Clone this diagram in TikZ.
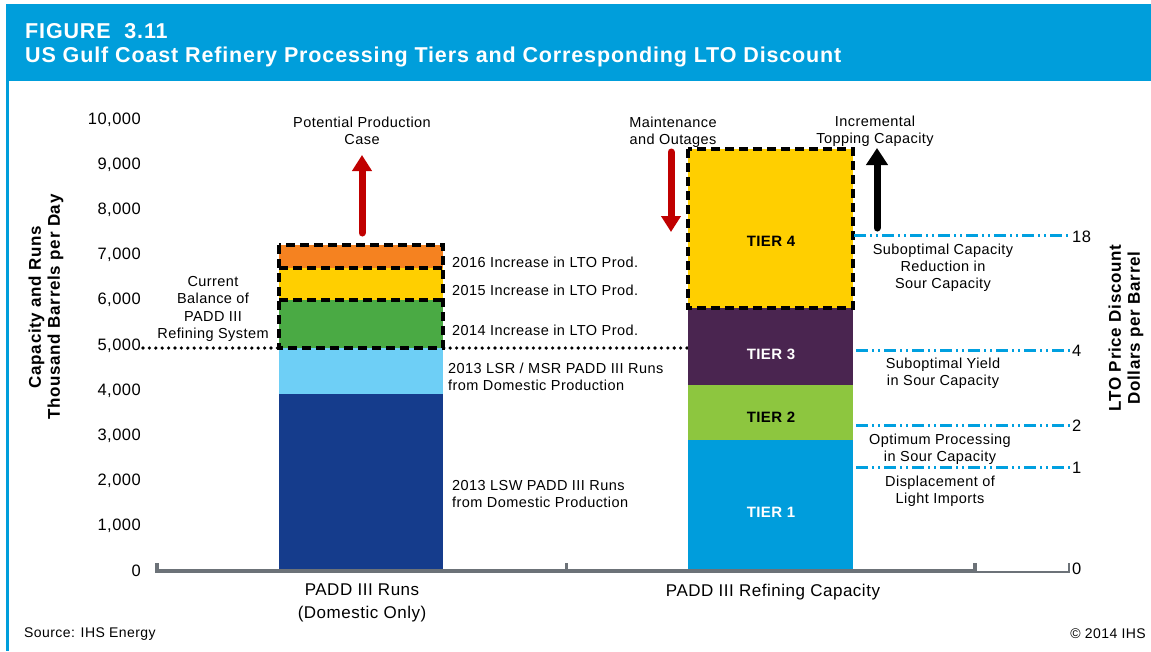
\documentclass[tikz,border=0pt]{standalone}
\usepackage{fontspec}
\setmainfont{Liberation Sans}[LetterSpace=3]
\usetikzlibrary{arrows.meta}
\definecolor{hdr}{RGB}{0,158,219}
\definecolor{dkblue}{RGB}{21,60,140}
\definecolor{ltblue}{RGB}{110,207,246}
\definecolor{grn}{RGB}{74,170,68}
\definecolor{ylw}{RGB}{255,207,0}
\definecolor{orng}{RGB}{245,130,32}
\definecolor{purp}{RGB}{74,37,80}
\definecolor{lgrn}{RGB}{141,198,63}
\definecolor{tonebl}{RGB}{0,157,220}
\definecolor{ddblue}{RGB}{0,160,224}
\definecolor{axgray}{RGB}{108,114,120}
\definecolor{arred}{RGB}{192,0,0}
\begin{document}
\begin{tikzpicture}[x=1pt,y=-1pt,
  lbl/.style={font=\fontsize{14.5}{17}\selectfont, inner sep=0pt, align=center},
  lbll/.style={font=\fontsize{14.5}{17}\selectfont, inner sep=0pt, align=left, anchor=west},
  ticklbl/.style={font=\fontsize{16.5}{18}\selectfont, inner sep=0pt, anchor=east},
  rticklbl/.style={font=\fontsize{16.5}{18}\selectfont, inner sep=0pt, anchor=west},
  tierlbl/.style={font=\bfseries\fontsize{15}{17}\selectfont, inner sep=0pt},
  axtitle/.style={font=\bfseries\fontsize{17}{19}\selectfont\addfontfeature{LetterSpace=4}, inner sep=0pt, align=center, rotate=90},
  catlbl/.style={font=\fontsize{17}{23}\selectfont, inner sep=0pt, align=center},
  dashbox/.style={draw=black, line width=3.5pt, dash pattern=on 9pt off 5pt},
  ddline/.style={draw=ddblue, line width=3pt, dash pattern=on 12pt off 4pt on 2pt off 4pt on 2pt off 4pt},
  bigarrow/.style={line width=7pt, line cap=round, -{Triangle[width=19pt,length=16pt]}},
  titlefont/.style={font=\bfseries\fontsize{21.5}{24}\selectfont\addfontfeature{LetterSpace=4}},
]
\useasboundingbox (0,0) rectangle (1151,651);
\fill[white] (0,0) rectangle (1151,651);
% header
\fill[hdr] (6,4) rectangle (1151,81);
\fill[hdr] (6,81) rectangle (9,651);
\node[anchor=west, inner sep=0pt, text=white, titlefont] (fig) at (25,31) {FIGURE\ \ 3.11};
\node[anchor=west, inner sep=0pt, text=white, titlefont] (title) at (25,57) {US Gulf Coast Refinery Processing Tiers and Corresponding LTO Discount};

% y tick labels
\foreach \v/\t [count=\i] in {0/0,1000/{1,000},2000/{2,000},3000/{3,000},4000/{4,000},5000/{5,000},6000/{6,000},7000/{7,000},8000/{8,000},9000/{9,000},10000/{10,000}}
  \node[ticklbl] (yt\i) at (141,{571-0.04512*\v}) {\t};

% axis titles
\node[axtitle] (ytitle) at (46,307) {Capacity and Runs\\Thousand Barrels per Day};
\node[axtitle] (rtitle) at (1126,328) {LTO Price Discount\\Dollars per Barrel};

% dotted 5000 line
\coordinate (dotA) at (143,348);
\coordinate (dotB) at (688,348);
\draw[black, line width=3.6pt, line cap=round, dash pattern=on 0pt off 6.4pt] (dotA) -- (dotB);

% left bar
\fill[dkblue] (279,394) rectangle (443,571);
\fill[ltblue] (279,348) rectangle (443,394);
\fill[grn] (279,300) rectangle (443,348);
\fill[ylw] (279,268) rectangle (443,300);
\fill[orng] (279,245) rectangle (443,268);
\draw[dashbox] (279,245) rectangle (443,348);
\draw[dashbox] (279,268) -- (443,268);
\draw[dashbox] (279,300) -- (443,300);

% right bar
\fill[tonebl] (688,440) rectangle (853,571);
\fill[lgrn] (688,385) rectangle (853,440);
\fill[purp] (688,308) rectangle (853,385);
\fill[ylw] (688,149) rectangle (853,308);
\draw[dashbox] (688,149) rectangle (853,308);

% tier labels
\node[tierlbl, text=black] (t4) at (771,241) {TIER 4};
\node[tierlbl, text=white] (t3) at (771,354) {TIER 3};
\node[tierlbl, text=black] (t2) at (771,417) {TIER 2};
\node[tierlbl, text=white] (t1) at (771,512) {TIER 1};

% dash-dot discount lines
\coordinate (d18a) at (854,235); \coordinate (d18b) at (1070,235);
\coordinate (d4a) at (856,350);  \coordinate (d4b) at (1070,350);
\coordinate (d2a) at (856,425);  \coordinate (d2b) at (1070,425);
\coordinate (d1a) at (856,467);  \coordinate (d1b) at (1070,467);
\draw[ddline] (d18a) -- (d18b);
\draw[ddline] (d4a) -- (d4b);
\draw[ddline] (d2a) -- (d2b);
\draw[ddline] (d1a) -- (d1b);
\node[rticklbl] (r18) at (1072,237) {18};
\node[rticklbl] (r4) at (1072,351) {4};
\node[rticklbl] (r2) at (1072,426) {2};
\node[rticklbl] (r1) at (1072,468) {1};
\node[rticklbl] (r0) at (1072,569) {0};

% axes
\draw[axgray, line width=4pt] (157,563) -- (157,571) -- (975,571) -- (975,563);
\draw[axgray, line width=3pt] (566,571) -- (566,563);
\draw[axgray, line width=2.2pt] (975,572) -- (1069,572) -- (1069,563);

% arrows
\coordinate (ppA) at (362,233); \coordinate (ppB) at (362,155);
\draw[bigarrow, arred] (ppA) -- (ppB);
\coordinate (moA) at (671,152); \coordinate (moB) at (671,232);
\draw[bigarrow, arred] (moA) -- (moB);
\coordinate (itA) at (877,228); \coordinate (itB) at (877,148);
\draw[bigarrow, black, -{Triangle[width=21pt,length=17pt]}] (itA) -- (itB);

% annotation texts
\node[lbl] (pp) at (362,131) {Potential Production\\Case};
\node[lbl] (mo) at (673,132) {Maintenance\\and Outages};
\node[lbl] (it) at (875,131) {Incremental\\Topping Capacity};
\node[lbl, font=\fontsize{14.5}{17.5}\selectfont] (cb) at (213,309) {Current\\Balance of\\PADD III\\Refining System};
\node[lbll] (l16) at (452,262) {2016 Increase in LTO Prod.};
\node[lbll] (l15) at (452,290) {2015 Increase in LTO Prod.};
\node[lbll] (l14) at (452,330) {2014 Increase in LTO Prod.};
\node[lbll] (lsr) at (448,377) {2013 LSR / MSR PADD III Runs\\from Domestic Production};
\node[lbll] (lsw) at (452,494) {2013 LSW PADD III Runs\\from Domestic Production};
\node[lbl] (sc) at (943,268) {Suboptimal Capacity\\Reduction in\\Sour Capacity};
\node[lbl] (sy) at (943,373) {Suboptimal Yield\\in Sour Capacity};
\node[lbl] (op) at (940,449) {Optimum Processing\\in Sour Capacity};
\node[lbl] (dl) at (940,491) {Displacement of\\Light Imports};

% category labels
\node[catlbl] (c1) at (362,603) {PADD III Runs\\(Domestic Only)};
\node[catlbl] (c2) at (773,592) {PADD III Refining Capacity};

% footer
\node[anchor=west, inner sep=0pt, font=\fontsize{14}{16}\selectfont] (src) at (24,634) {Source: IHS Energy};
\node[anchor=east, inner sep=0pt, font=\fontsize{14}{16}\selectfont] (cr) at (1146,634) {© 2014 IHS};
\end{tikzpicture}
\end{document}
